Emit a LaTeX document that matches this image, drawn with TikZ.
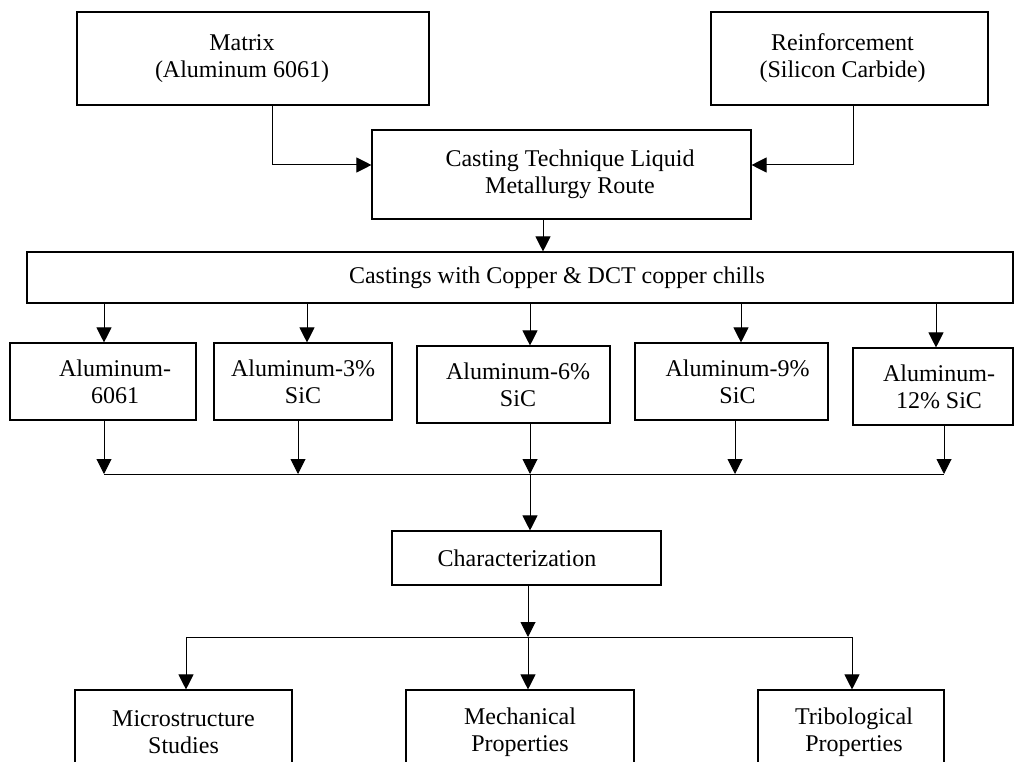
\documentclass[tikz,border=0pt]{standalone}
\usepackage{fontspec}
\setmainfont{Liberation Serif}
\usepackage{tikz}
\usetikzlibrary{arrows.meta}

\begin{document}
\begin{tikzpicture}[x=1pt, y=-1pt]
  \tikzstyle{box} = [draw, line width=1.1pt, inner sep=0pt, align=center, font=\fontsize{24}{27}\selectfont]
  \tikzstyle{arr} = [line width=1pt, -{Triangle[length=15pt, width=15pt]}]

  \useasboundingbox (0,0) rectangle (1015,762);
  \clip (0,0) rectangle (1015,762);

  % inputs
  \node[box, minimum width=352pt, minimum height=93pt] (matrix) at (253,58.5) {\hspace*{-22pt}Matrix\\\hspace*{-22pt}(Aluminum 6061)};
  \node[box, minimum width=277pt, minimum height=93pt] (reinf) at (849.5,58.5) {\hspace*{-14pt}Reinforcement\\\hspace*{-14pt}(Silicon Carbide)};
  \node[box, minimum width=379pt, minimum height=89pt] (casting) at (561.5,174.5) {\hspace*{17pt}Casting Technique Liquid\\\hspace*{17pt}Metallurgy Route};
  \node[box, minimum width=986pt, minimum height=51pt] (castings) at (520,277.5) {\hspace*{74pt}Castings with Copper \& DCT copper chills};

  % composites
  \node[box, minimum width=186pt, minimum height=77pt] (a1) at (103,381.5) {\hspace*{24pt}Aluminum-\\\hspace*{24pt}6061};
  \node[box, minimum width=178pt, minimum height=77pt] (a2) at (303,381.5) {Aluminum-3\%\\SiC};
  \node[box, minimum width=193pt, minimum height=77pt] (a3) at (513.5,384.5) {\hspace*{9pt}Aluminum-6\%\\\hspace*{9pt}SiC};
  \node[box, minimum width=193pt, minimum height=77pt] (a4) at (731.5,381.5) {\hspace*{12pt}Aluminum-9\%\\\hspace*{12pt}SiC};
  \node[box, minimum width=160pt, minimum height=77pt] (a5) at (933,386.5) {\hspace*{12pt}Aluminum-\\\hspace*{12pt}12\% SiC};

  \node[box, minimum width=269pt, minimum height=54pt] (char) at (526.5,558) {\hspace*{-19pt}Characterization};

  % studies
  \node[box, minimum width=217pt, minimum height=85pt] (micro) at (183.5,732.5) {Microstructure\\Studies};
  \node[box, minimum width=228pt, minimum height=85pt] (mech) at (520,732.5) {Mechanical\\Properties};
  \node[box, minimum width=186pt, minimum height=85pt] (trib) at (851,732.5) {\hspace*{6pt}Tribological\\\hspace*{6pt}Properties};

  \coordinate (busL) at (104,474);
  \coordinate (busR) at (944,474);
  \coordinate (split) at (528,637);

  \draw[arr] ([xshift=19pt]matrix.south) |- ([yshift=9.5pt]casting.west);
  \draw[arr] ([xshift=3.5pt]reinf.south) |- ([yshift=9.5pt]casting.east);
  \draw[arr] ([xshift=-18.5pt]casting.south) -- ([xshift=-18.5pt]casting.south |- castings.north);

  \foreach \n/\dx in {a1/1, a2/4, a3/16.5, a4/9.5, a5/3}
    \draw[arr] ([xshift=\dx pt]\n.north |- castings.south) -- ([xshift=\dx pt]\n.north);

  \foreach \n/\dx in {a1/1, a2/-5, a3/16.5, a4/3.5, a5/11}
    \draw[arr] ([xshift=\dx pt]\n.south) -- ([xshift=\dx pt]\n.south |- busL);

  \draw[line width=1pt] (busL) -- (busR);
  \draw[arr] ([xshift=3.5pt]char.north |- busL) -- ([xshift=3.5pt]char.north);
  \draw[arr] ([xshift=1.5pt]char.south) -- (split);

  \draw[line width=1pt] ([xshift=2.5pt]micro.north |- split) -- ([xshift=1pt]trib.north |- split);
  \foreach \n/\dx in {micro/2.5, mech/8, trib/1}
    \draw[arr] ([xshift=\dx pt]\n.north |- split) -- ([xshift=\dx pt]\n.north);

\end{tikzpicture}
\end{document}
